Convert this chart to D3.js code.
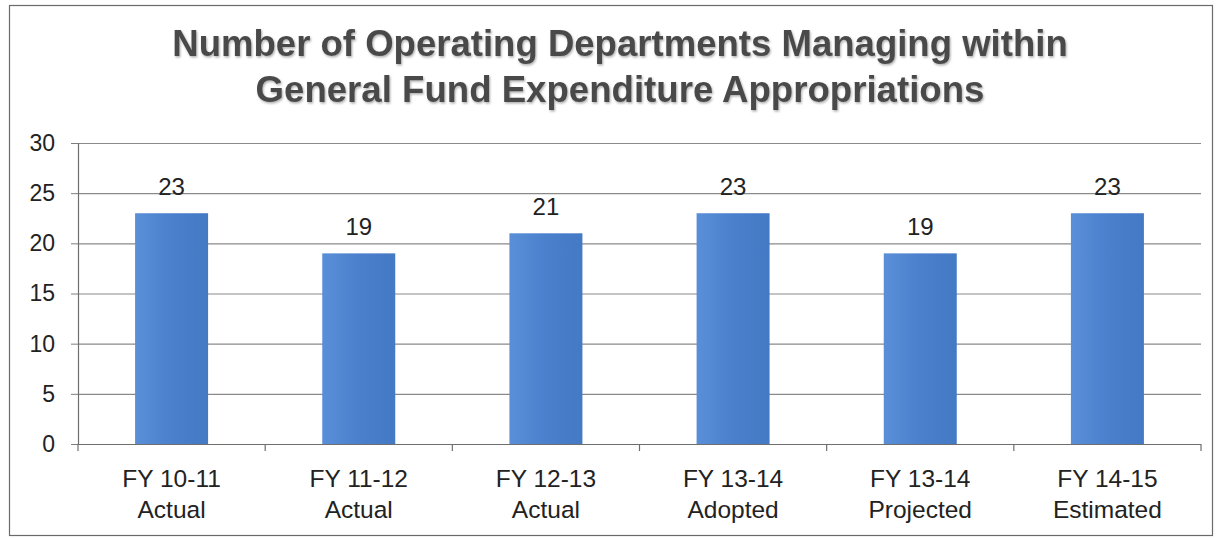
<!DOCTYPE html>
<html>
<head>
<meta charset="utf-8">
<script src="https://cdn.jsdelivr.net/npm/d3@7"></script>
<style>
  html, body { margin: 0; padding: 0; background: #fff; }
  svg { display: block; font-family: Arial, "Liberation Sans", sans-serif; }
</style>
</head>
<body>
<svg id="chart" width="1217" height="538"></svg>
<script>
const titleLines = ["Number of Operating Departments Managing within", "General Fund Expenditure Appropriations"];
const categories = [
  ["FY 10-11", "Actual"],
  ["FY 11-12", "Actual"],
  ["FY 12-13", "Actual"],
  ["FY 13-14", "Adopted"],
  ["FY 13-14", "Projected"],
  ["FY 14-15", "Estimated"]
];
const values = [23, 19, 21, 23, 19, 23];
const yTicks = [0, 5, 10, 15, 20, 25, 30];

const svg = d3.select("#chart");
const plot = { left: 78, right: 1201, top: 143, bottom: 444 };

// outer frame
svg.append("rect")
  .attr("x", 9.5).attr("y", 5.5)
  .attr("width", 1203).attr("height", 530)
  .attr("fill", "#fff").attr("stroke", "#6a6a6a").attr("stroke-width", 1.2);

// gradient for bars
const defs = svg.append("defs");
const grad = defs.append("linearGradient").attr("id", "barGrad")
  .attr("x1", "0").attr("x2", "1").attr("y1", "0").attr("y2", "0");
grad.append("stop").attr("offset", "0%").attr("stop-color", "#5a8fd8");
grad.append("stop").attr("offset", "50%").attr("stop-color", "#4a80cc");
grad.append("stop").attr("offset", "100%").attr("stop-color", "#4479c4");
const shadow = defs.append("filter").attr("id", "tshadow")
  .attr("x", "-5%").attr("y", "-20%").attr("width", "110%").attr("height", "140%");
shadow.append("feDropShadow").attr("dx", 1).attr("dy", 1.5).attr("stdDeviation", 0.8)
  .attr("flood-color", "#9a9a9a").attr("flood-opacity", 0.8);

const x = d3.scaleBand()
  .domain(d3.range(categories.length))
  .range([plot.left, plot.right])
  .paddingInner(0.61)
  .paddingOuter(0.305);

const y = d3.scaleLinear().domain([0, 30]).range([plot.bottom, plot.top]);

// gridlines
svg.append("g").selectAll("line").data(yTicks.filter(d => d > 0)).join("line")
  .attr("x1", plot.left).attr("x2", plot.right)
  .attr("y1", d => y(d) + 0.5).attr("y2", d => y(d) + 0.5)
  .attr("stroke", "#8a8a8a").attr("stroke-width", 1.1);

// y axis
const yAxis = d3.axisLeft(y).tickValues(yTicks).tickSize(7).tickPadding(16).tickFormat(d3.format("d"));
const gy = svg.append("g").attr("transform", `translate(${plot.left},0)`).call(yAxis);
gy.select(".domain").attr("stroke", "#6e6e6e").attr("stroke-width", 1.2);
gy.selectAll(".tick line").attr("stroke", "#7e7e7e");
gy.selectAll(".tick text").attr("font-size", 23).attr("fill", "#222")
  .attr("font-family", "Arial, 'Liberation Sans', sans-serif");

// bars
svg.append("g").selectAll("rect").data(values).join("rect")
  .attr("x", (d, i) => x(i))
  .attr("y", d => y(d))
  .attr("width", x.bandwidth())
  .attr("height", d => y(0) - y(d))
  .attr("fill", "url(#barGrad)");

// x axis
const step = x.step();
const boundaries = d3.range(categories.length + 1).map(i => plot.left + i * step);
svg.append("line")
  .attr("x1", plot.left).attr("x2", plot.right)
  .attr("y1", y(0) + 0.5).attr("y2", y(0) + 0.5)
  .attr("stroke", "#6e6e6e").attr("stroke-width", 1.2);
svg.append("g").selectAll("line").data(boundaries).join("line")
  .attr("x1", d => d).attr("x2", d => d)
  .attr("y1", y(0)).attr("y2", y(0) + 7)
  .attr("stroke", "#6e6e6e").attr("stroke-width", 1.2);

const xl = svg.append("g").selectAll("text").data(categories).join("text")
  .attr("text-anchor", "middle")
  .attr("font-size", 24.5)
  .attr("fill", "#222")
  .attr("x", (d, i) => x(i) + x.bandwidth() / 2)
  .attr("y", 487);
xl.append("tspan").attr("x", (d, i) => x(i) + x.bandwidth() / 2).attr("dy", 0).text(d => d[0]);
xl.append("tspan").attr("x", (d, i) => x(i) + x.bandwidth() / 2).attr("dy", 31).text(d => d[1]);

// data labels
svg.append("g").selectAll("text").data(values).join("text")
  .attr("text-anchor", "middle")
  .attr("font-size", 24)
  .attr("fill", "#222")
  .attr("x", (d, i) => x(i) + x.bandwidth() / 2)
  .attr("y", d => y(d) - 18)
  .text(d => d);

// title
const cx = 620;
const tg = svg.append("g").attr("filter", "url(#tshadow)");
const targets = [896, 729];
const baselines = [56, 102];
titleLines.forEach((t, i) => {
  const el = tg.append("text")
    .attr("x", cx).attr("y", baselines[i])
    .attr("text-anchor", "middle")
    .attr("font-size", 32).attr("font-weight", "bold")
    .attr("fill", "#4a4a4a")
    .text(t);
  const w = el.node().getComputedTextLength();
  el.attr("font-size", 32 * targets[i] / w);
});
</script>
</body>
</html>
